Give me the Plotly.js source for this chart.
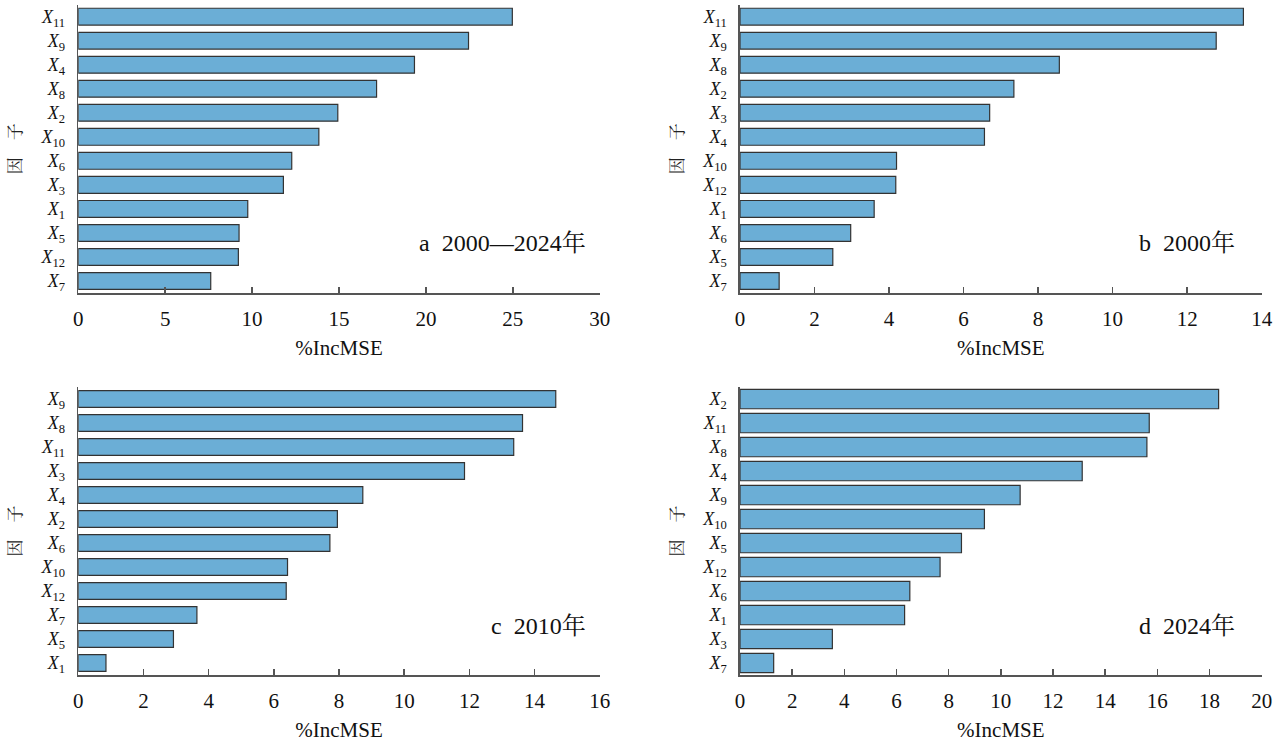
<!DOCTYPE html>
<html><head><meta charset="utf-8">
<script src="https://cdn.plot.ly/plotly-3.0.1.min.js"></script>
<style>html,body{margin:0;padding:0;background:#fff}#chart{width:1281px;height:742px}</style>
</head><body><div id="chart"></div>
<script>
const factorsA = ['X11','X9','X4','X8','X2','X10','X6','X3','X1','X5','X12','X7'];
const valuesA = [24.97,22.45,19.34,17.16,14.93,13.84,12.28,11.80,9.75,9.25,9.21,7.62];
const factorsB = ['X11','X9','X8','X2','X3','X4','X10','X12','X1','X6','X5','X7'];
const valuesB = [13.51,12.78,8.57,7.35,6.70,6.56,4.20,4.18,3.60,2.97,2.49,1.05];
const factorsC = ['X9','X8','X11','X3','X4','X2','X6','X10','X12','X7','X5','X1'];
const valuesC = [14.65,13.63,13.36,11.85,8.73,7.95,7.72,6.42,6.38,3.64,2.92,0.85];
const factorsD = ['X2','X11','X8','X4','X9','X10','X5','X12','X6','X1','X3','X7'];
const valuesD = [18.35,15.69,15.60,13.12,10.74,9.37,8.49,7.67,6.51,6.31,3.54,1.29];
const panelLetters = ['a','b','c','d'];
const panelYears = ['2000\u20142024','2000','2010','2024'];
const yearSuffix = '年';
const xRanges = [[0,30],[0,14],[0,16],[0,20]];
const xDticks = [5,2,2,2];
const xTitle = '%IncMSE';
const yTitle = '因\u3000子';

const factors = [factorsA, factorsB, factorsC, factorsD];
const values = [valuesA, valuesB, valuesC, valuesD];
const barWidths = [0.7, 0.7, 0.7, 0.81];
const xDomains = [[0.0611,0.4682],[0.5777,0.9849],[0.0611,0.4682],[0.5777,0.9849]];
const yDomains = [[0.6051,0.9937],[0.6051,0.9937],[0.0903,0.4784],[0.0903,0.4784]];
const annPos = [[0.459,0.6765],[0.9657,0.6765],[0.459,0.16],[0.9657,0.16]];

const serif = 'Liberation Serif';
const cjk = 'Noto Serif CJK SC';
const axisColor = '#555';
const barColor = '#6baed6';

const traces = [];
const layout = {
  width: 1281, height: 742,
  margin: {l:0, r:0, t:0, b:0},
  showlegend: false,
  font: {family: serif, size: 20},
  annotations: []
};

for (let i = 0; i < 4; i++) {
  const n = i === 0 ? '' : String(i + 1);
  traces.push({
    type: 'bar', orientation: 'h',
    x: values[i], y: factors[i],
    xaxis: 'x' + n, yaxis: 'y' + n,
    width: barWidths[i],
    marker: {color: barColor, line: {color: '#333', width: 1.2}}
  });
  layout['xaxis' + n] = {
    domain: xDomains[i], anchor: 'y' + n,
    range: xRanges[i], dtick: xDticks[i], tick0: 0,
    showgrid: false, zeroline: false,
    showline: true, linecolor: axisColor, linewidth: 1.6,
    ticks: 'inside', ticklen: 6, tickwidth: 1.4, tickcolor: axisColor,
    tickfont: {size: 21, color: '#111'},
    ticklabelstandoff: 6,
    title: {text: xTitle, font: {size: 21, color: '#111'}, standoff: 10}
  };
  layout['yaxis' + n] = {
    domain: yDomains[i], anchor: 'x' + n,
    type: 'category', categoryorder: 'array', categoryarray: factors[i],
    range: [11.5, -0.5],
    tickvals: factors[i],
    ticktext: factors[i].map(f => '<i>X</i><sub>' + f.slice(1) + '</sub>'),
    showgrid: false, zeroline: false,
    showline: true, linecolor: axisColor, linewidth: 1.6,
    ticks: '',
    tickfont: {size: 18, color: '#111'},
    ticklabelstandoff: 8,
    title: {text: yTitle, font: {family: cjk, size: 17, color: '#222'}, standoff: 14}
  };
  layout.annotations.push({
    xref: 'paper', yref: 'paper', x: annPos[i][0], y: annPos[i][1],
    xanchor: 'right', yanchor: 'middle', showarrow: false,
    text: panelLetters[i] + '\u00a0 ' + panelYears[i] + '<span style="font-family:' + cjk + '">' + yearSuffix + '</span>',
    font: {size: 24, color: '#111'}
  });
}

Plotly.newPlot('chart', traces, layout, {displayModeBar: false, staticPlot: true}).then(gd => {
  gd.querySelectorAll('text').forEach(t => {
    const isY = t.classList.contains('ytitle') || /^y\d*title$/.test(t.getAttribute('class') || '');
    t.style.fontFamily = isY ? '"Noto Serif CJK SC"' : '"Liberation Serif"';
  });
});
</script>
</body></html>
